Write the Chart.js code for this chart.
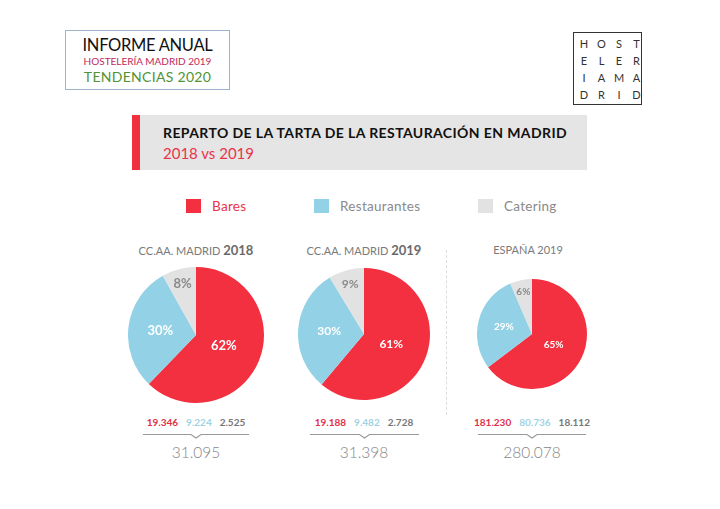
<!DOCTYPE html>
<html lang="es">
<head>
<meta charset="utf-8">
<title>Reparto de la tarta de la restauración en Madrid</title>
<script src="https://cdn.jsdelivr.net/npm/chart.js@4.4.1/dist/chart.umd.min.js"></script>
<style>
  body { margin: 0; background: #fff; font-family: Lato, "Open Sans", sans-serif; }
  #page { position: relative; width: 720px; height: 509px; overflow: hidden; background: #fff; }
  .abs { position: absolute; }
  #report { left: 65px; top: 30px; width: 163px; height: 58px; border: 1px solid #9fb3cc; text-align: center; }
  #report .l1 { position: absolute; left: 0; right: 0; top: 5px; font-size: 16.5px; line-height: 18px; color: #111; letter-spacing: -0.3px; }
  #report .l2 { position: absolute; left: 0; right: 0; top: 24px; font-size: 10px; line-height: 12px; color: #c2285a; }
  #report .l3 { position: absolute; left: 0; right: 0; top: 38px; font-size: 14px; line-height: 16px; color: #4f9434; letter-spacing: 0.3px; }
  #logo { left: 573px; top: 32px; width: 69px; height: 73px; border: 1.5px solid #333; box-sizing: border-box; }
  #logo span { position: absolute; width: 14px; text-align: center; font-size: 11px; line-height: 12px; color: #333; }
  #titlebox { left: 132px; top: 115px; width: 455px; height: 55px; background: #e5e5e5; }
  #titlebox .bar { position: absolute; left: 0; top: 0; width: 8px; height: 55px; background: #f0303f; }
  #titlebox .t1 { position: absolute; left: 31px; top: 10px; font-size: 14px; line-height: 16px; font-weight: bold; color: #111; white-space: nowrap; letter-spacing: 0.4px; }
  #titlebox .t2 { position: absolute; left: 31px; top: 29px; font-size: 15px; line-height: 18px; color: #e8334a; white-space: nowrap; }
  .legsq { width: 15px; height: 14px; }
  .legtx { font-size: 13.5px; line-height: 16px; color: #8a8a8a; white-space: nowrap; letter-spacing: 0.3px; }
  .ptitle { width: 160px; text-align: center; font-size: 11px; line-height: 16px; color: #7a7a7a; white-space: nowrap; }
  .ptitle b { font-size: 13px; color: #6a6a6a; }
  .nums { width: 170px; text-align: center; font-size: 10px; line-height: 12px; font-weight: bold; white-space: nowrap; }
  .nums span { margin: 0 4px; }
  .total { width: 160px; text-align: center; font-size: 15.5px; line-height: 18px; color: #858585; font-weight: 300; }
  .bracket svg { display: block; }
  #sep { left: 446px; top: 250px; width: 0; height: 165px; border-left: 1px dashed #dcdcdc; }
</style>
</head>
<body>
<div id="page">
  <div id="report" class="abs">
    <div class="l1">INFORME ANUAL</div>
    <div class="l2">HOSTELERÍA MADRID 2019</div>
    <div class="l3">TENDENCIAS 2020</div>
  </div>
  <div id="logo" class="abs"></div>
  <div id="titlebox" class="abs">
    <div class="bar"></div>
    <div class="t1">REPARTO DE LA TARTA DE LA RESTAURACIÓN EN MADRID</div>
    <div class="t2">2018 vs 2019</div>
  </div>
  <div id="sep" class="abs"></div>
</div>

<script>
// Categories and values
const categories = ['Bares', 'Restaurantes', 'Catering'];
const panelTitles = ['CC.AA. MADRID', 'CC.AA. MADRID', 'ESPAÑA'];
const panelYears = ['2018', '2019', '2019'];
const madrid2018 = [19346, 9224, 2525];
const madrid2019 = [19188, 9482, 2728];
const espana2019 = [181230, 80736, 18112];
const logoLetters = ['HOST', 'ELER', 'IAMA', 'DRID'];

// Styles
const sliceColors = ['#f2303f', '#93d2e6', '#e2e2e2'];
const textColors = ['#e03048', '#9fd3e3', '#777777'];
const legendTextColors = ['#e8334a', '#8a8a8a', '#8a8a8a'];

// Layout of the three panels
const panels = [
  { values: madrid2018, cx: 196, cy: 335, size: 136, titleX: 196, boldYear: true, lineW: 106 },
  { values: madrid2019, cx: 364, cy: 334, size: 132, titleX: 364, boldYear: true, lineW: 109 },
  { values: espana2019, cx: 532, cy: 334, size: 110, titleX: 528, boldYear: false, lineW: 108 }
];

const page = document.getElementById('page');

function addEl(tag, cls, css, html) {
  const el = document.createElement(tag);
  if (cls) el.className = cls;
  el.style.cssText = css;
  if (html !== undefined) el.innerHTML = html;
  page.appendChild(el);
  return el;
}

// Spanish thousands separator
function fmt(n) {
  return String(n).replace(/\B(?=(\d{3})+(?!\d))/g, '.');
}

// Logo letters
const logo = document.getElementById('logo');
logoLetters.forEach((row, r) => {
  row.split('').forEach((ch, c) => {
    const s = document.createElement('span');
    s.textContent = ch;
    s.style.left = (3 + c * 17.5) + 'px';
    s.style.top = (5 + r * 17) + 'px';
    logo.appendChild(s);
  });
});

// Legend
const legendX = [186, 314, 478];
categories.forEach((cat, i) => {
  addEl('div', 'abs legsq', `left:${legendX[i]}px;top:199px;background:${sliceColors[i]};`);
  addEl('div', 'abs legtx', `left:${legendX[i] + 26}px;top:198px;color:${legendTextColors[i]};`, cat);
});

// Percentage labels inside slices
const pctLabels = {
  id: 'pctLabels',
  afterDatasetsDraw(chart) {
    const ctx = chart.ctx;
    const data = chart.data.datasets[0].data;
    const total = data.reduce((a, b) => a + b, 0);
    chart.getDatasetMeta(0).data.forEach((arc, i) => {
      const p = arc.getProps(['x', 'y', 'startAngle', 'endAngle', 'outerRadius'], true);
      const pct = Math.round(data[i] / total * 100);
      const mid = (p.startAngle + p.endAngle) / 2;
      const f = pct >= 50 ? 0.44 : (pct >= 20 ? 0.53 : 0.78);
      const x = p.x + Math.cos(mid) * p.outerRadius * f;
      const y = p.y + Math.sin(mid) * p.outerRadius * f;
      ctx.save();
      ctx.font = 'bold ' + Math.round(p.outerRadius * 0.185) + 'px Lato, sans-serif';
      ctx.fillStyle = i === 2 ? '#8a8a8a' : '#ffffff';
      ctx.textAlign = 'center';
      ctx.textBaseline = 'middle';
      ctx.fillText(pct + '%', x, y);
      ctx.restore();
    });
  }
};

panels.forEach((pn, k) => {
  // Panel title
  const yearHtml = pn.boldYear ? ' <b>' + panelYears[k] + '</b>' : ' ' + panelYears[k];
  addEl('div', 'abs ptitle', `left:${pn.titleX - 80}px;top:242px;`, panelTitles[k] + yearHtml);

  // Pie
  const canvas = addEl('canvas', '', `position:absolute;left:${pn.cx - pn.size / 2}px;top:${pn.cy - pn.size / 2}px;`);
  canvas.width = pn.size;
  canvas.height = pn.size;
  new Chart(canvas.getContext('2d'), {
    type: 'pie',
    data: {
      labels: categories,
      datasets: [{
        data: pn.values,
        backgroundColor: sliceColors,
        borderWidth: 0
      }]
    },
    options: {
      responsive: false,
      animation: false,
      layout: { padding: 0 },
      plugins: { legend: { display: false }, tooltip: { enabled: false } }
    },
    plugins: [pctLabels]
  });

  // Values row
  const spans = pn.values.map((v, i) => `<span style="color:${textColors[i]}">${fmt(v)}</span>`).join('');
  addEl('div', 'abs nums', `left:${pn.cx - 85}px;top:416px;`, spans);

  // Bracket line with notch
  const w = pn.lineW;
  addEl('div', 'abs bracket', `left:${pn.cx - w / 2}px;top:433px;width:${w}px;height:6px;`,
    `<svg width="${w}" height="6"><polyline points="0,1.5 ${w / 2 - 5},1.5 ${w / 2},5 ${w / 2 + 5},1.5 ${w},1.5" fill="none" stroke="#9a9a9a" stroke-width="1.2"/></svg>`);

  // Total
  const total = pn.values.reduce((a, b) => a + b, 0);
  addEl('div', 'abs total', `left:${pn.cx - 80}px;top:443px;`, fmt(total));
});
</script>
</body>
</html>
